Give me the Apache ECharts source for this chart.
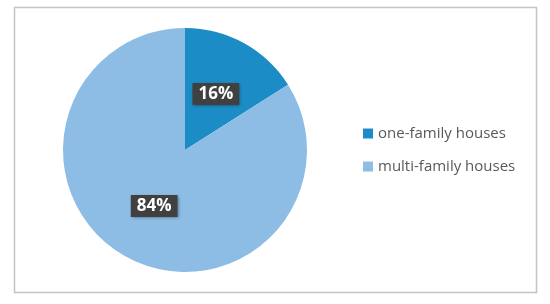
<!DOCTYPE html>
<html><head><meta charset="utf-8">
<script src="https://cdn.jsdelivr.net/npm/echarts@6/dist/echarts.min.js"></script>
<style>html,body{margin:0;padding:0;background:#fff}#c{width:550px;height:304px}</style>
</head><body><div id="c"></div>
<script>
const categories = ["one-family houses", "multi-family houses"];
const values = [16, 84];
const colors = ["#1c8cc6", "#8dbde4"];

const chart = echarts.init(document.getElementById('c'), null, {renderer: 'canvas'});
chart.setOption({
  animation: false,
  graphic: [{
    type: 'rect', shape: {x: 14.5, y: 7.5, width: 522, height: 285},
    style: {fill: 'none', stroke: '#c4c4c4', lineWidth: 1.5}, z: 0
  }],
  legend: {
    orient: 'vertical', left: 358, top: 121, itemWidth: 10, itemHeight: 10, itemGap: 18,
    icon: 'rect',
    textStyle: {color: '#595959', fontSize: 15, fontFamily: 'Open Sans'},
    data: categories
  },
  series: [{
    type: 'pie', center: [185, 150], radius: 122, startAngle: 90, clockwise: true,
    data: categories.map((n, i) => ({name: n, value: values[i], itemStyle: {color: colors[i]}})),
    label: {
      position: 'inside', formatter: '{c}%', color: '#fff', fontWeight: 'bold', fontSize: 17,
      fontFamily: 'Open Sans', backgroundColor: '#404040', padding: [3, 6, 2, 6],
      shadowColor: 'rgba(0,0,0,0.4)', shadowBlur: 3, shadowOffsetX: 1, shadowOffsetY: 1
    },
    labelLine: {show: false},
    emphasis: {disabled: true}
  }]
});
</script></body></html>
